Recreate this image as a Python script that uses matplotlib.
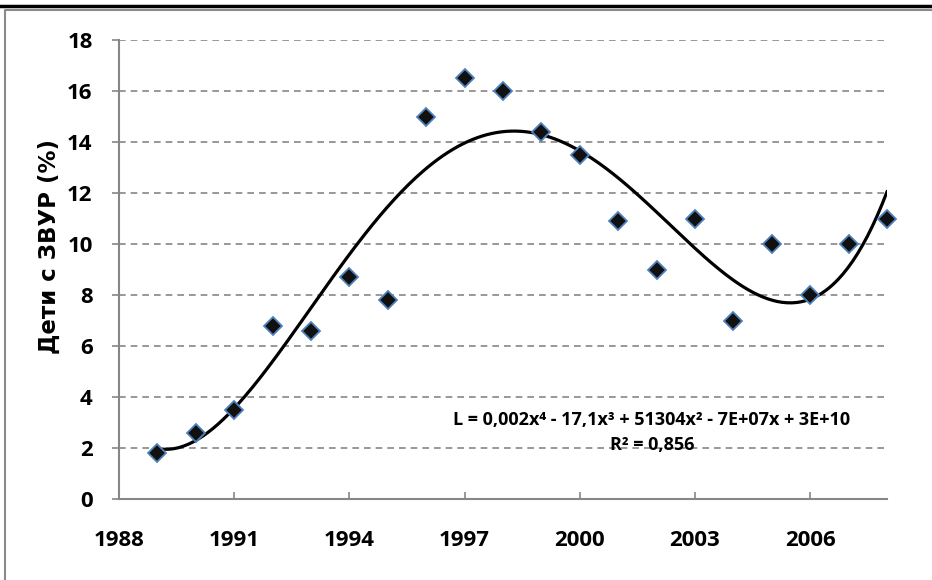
import numpy as np
import matplotlib.pyplot as plt
from matplotlib.lines import Line2D

plt.rcParams['font.family'] = ['Open Sans', 'DejaVu Sans']
plt.rcParams['font.weight'] = 'bold'

years = [1989, 1990, 1991, 1992, 1993, 1994, 1995, 1996, 1997, 1998,
         1999, 2000, 2001, 2002, 2003, 2004, 2005, 2006, 2007, 2008]
share = [1.8, 2.6, 3.5, 6.8, 6.6, 8.7, 7.8, 15.0, 16.5, 16.0,
         14.4, 13.5, 10.9, 9.0, 11.0, 7.0, 10.0, 8.0, 10.0, 11.0]
xticks = [1988, 1991, 1994, 1997, 2000, 2003, 2006]
yticks = [0, 2, 4, 6, 8, 10, 12, 14, 16, 18]
ylabel = 'Дети с ЗВУР (%)'
eq_text = 'L = 0,002x⁴ - 17,1x³ + 51304x² - 7E+07x + 3E+10'
r2_text = 'R² = 0,856'

fig = plt.figure(figsize=(9.32, 5.8), dpi=100)
ax = fig.add_axes([119/932, 1 - 499/580, (887-119)/932, (499-40)/580])

# 4th degree polynomial trend (fit on centred years)
x = np.array(years, dtype=float)
y = np.array(share)
xm = x.mean()
coef = np.polyfit(x - xm, y, 4)
xs = np.linspace(x.min(), x.max(), 300)
ax.plot(xs, np.polyval(coef, xs - xm), color='black', lw=2.3, zorder=3)

ax.plot(years, share, ls='none', marker='D', markersize=9,
        markerfacecolor='#111111', markeredgecolor='#4F81BD',
        markeredgewidth=1.3, zorder=4, clip_on=False)

ax.set_xlim(1988, 2008)
ax.set_ylim(0, 18)
ax.set_xticks(xticks)
ax.set_yticks(yticks)
ax.yaxis.grid(True, ls=(0, (4, 3)), color='#868686', lw=1.2)
ax.set_axisbelow(True)
for s in ['top', 'right']:
    ax.spines[s].set_visible(False)
for s in ['left', 'bottom']:
    ax.spines[s].set_color('#868686')
    ax.spines[s].set_linewidth(1.5)
ax.tick_params(axis='x', direction='in', length=5, color='#868686', width=1.2,
               pad=22, labelsize=16)
ax.tick_params(axis='y', direction='out', length=5, color='#868686', width=1.2,
               pad=14, labelsize=16)
for lab in ax.get_xticklabels() + ax.get_yticklabels():
    lab.set_fontweight('bold')

fig.text(49/932, 1 - 247/580, ylabel, rotation=90, ha='center', va='center',
         fontsize=16.5, fontweight='bold', family=['DejaVu Sans'])

fig.text(652/932, 1 - 420/580, eq_text, ha='center', va='center',
         fontsize=13, fontweight='bold')
fig.text(652/932, 1 - 445/580, r2_text, ha='center', va='center',
         fontsize=13, fontweight='bold')

# outer frame lines
fig.add_artist(Line2D([0, 1], [1 - 6/580, 1 - 6/580], color='black', lw=2.5,
                      transform=fig.transFigure))
fig.add_artist(Line2D([5/932, 5/932, 1], [0, 1 - 10/580, 1 - 10/580],
                      color='#8a8a8a', lw=1.5, transform=fig.transFigure))

fig.savefig('out.png', dpi=100)
